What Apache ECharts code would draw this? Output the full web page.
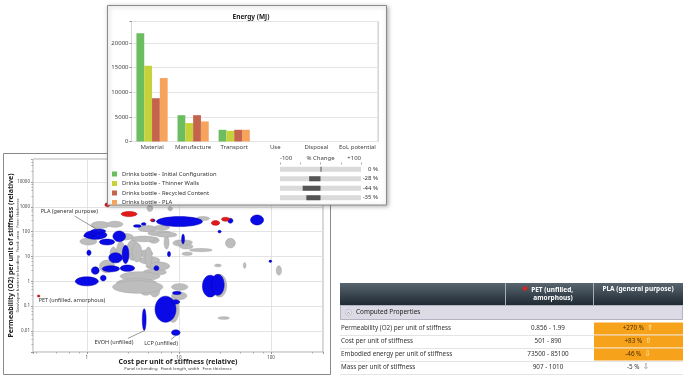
<!DOCTYPE html>
<html><head><meta charset="utf-8">
<script src="https://cdn.jsdelivr.net/npm/echarts@6/dist/echarts.min.js"></script>
<style>html,body{margin:0;padding:0;background:#fff}#c{width:685px;height:380px}</style>
</head><body><div id="c"></div>
<script>
// ---------- Energy bar chart data ----------
const categories = ['Material', 'Manufacture', 'Transport', 'Use', 'Disposal', 'EoL potential'];
const seriesNames = ['Drinks bottle - Initial Configuration', 'Drinks bottle - Thinner Walls', 'Drinks bottle - Recycled Content', 'Drinks bottle - PLA'];
const initialConfig = [22000, 5350, 2380, 0, 0, 0];
const thinnerWalls = [15400, 3750, 2170, 0, 0, 0];
const recycledContent = [8800, 5350, 2380, 0, 0, 0];
const plaBottle = [12900, 4080, 2380, 0, 0, 0];
const pctChange = [0, -28, -44, -35];
const barTitle = 'Energy (MJ)';

// ---------- Property chart data: [costLow, costHigh, permLow, permHigh] ----------
const grayMaterials = [
  [4.5,5.2,650,1200],[7.6,8.5,690,1030],[15.4,21.5,280,405],[1.11,1.76,136,254],[1.65,2.46,150,263],
  [3.6,5.7,100,175],[5.4,7.9,117,181],[4.6,8.3,67,110],[4.7,6.1,34,59],[6.9,7.8,20,67],
  [8.6,12,26,46],[10.2,14.2,20,32],[13,23,15.5,21],[32,41,22,54],[2.7,3.7,7,46],
  [2.1,2.6,7,39],[3.0,5.7,39,66],[3.7,5.2,9.7,18],[3.7,6.2,4.9,9.7],[4.4,7.9,3.0,5.2],
  [4.1,7.3,1.75,3.1],[2.3,6.2,1.03,2.4],[2.1,5.7,0.55,1.28],[2.3,4.8,0.34,0.86],[3.7,5.2,0.27,0.86],
  [4.8,6.2,0.23,0.8],[8.3,12.5,0.43,0.8],[8.3,12.2,0.18,0.37],[7.5,10,0.022,0.23],[23,33,0.23,1.9],
  [24.4,28.8,3.8,4.9],[50,53.5,3.3,5.7],[114,130,1.75,4.2],[26.5,35.5,0.029,0.037],[1.37,2.0,2.2,7.1],
  [2.0,3.2,46,85],[0.84,1.28,29,55],[1.78,2.12,5.9,24],[4.8,7.9,2.8,5.9],[3.1,3.96,6,35],
  [4.27,5.1,3.7,24],[1.9,6.7,0.33,1.05],[9.5,14,29,46],[10.8,14,11,15],[5.7,9.5,60,95]
];
const blueMaterials = [
  [5.7,18,160,405],[60,83,186,470],[18,26.5,0.23,1.75],[22.5,31,0.27,1.9],[5.5,9.3,0.022,0.25],
  [4.0,4.4,0.0103,0.078],[8.3,10.3,0.0065,0.011],[0.75,1.33,0.65,1.5],[1.12,1.36,1.9,3.8],[1.4,1.62,1.03,1.75],
  [1.0,1.11,11,18],[1.47,2.26,2.4,4.2],[2.3,3.3,2.5,4.5],[1.73,2.42,5.5,14],[2.42,2.86,5.2,28],
  [1.37,2.0,29,50],[0.94,1.65,49,110],[1.92,2.63,39,107],[1.11,1.6,86,128],[0.92,1.21,59,76],
  [3.2,3.9,150,190],[3.9,4.4,180,230],[5.0,5.5,250,320],[10.7,11.5,32,80],[7.5,8.1,9.7,16],
  [5.35,6.06,2.7,4.2],[34,38.6,220,345],[26.5,28.8,89,113],[95,102,5.7,7.1],[8.5,10.6,0.29,0.39],
  [8.3,10.2,0.12,0.18]
];
const redMaterials = [
  [2.36,3.5,405,650],[1.57,1.78,1000,1450],[22.5,27.7,180,280],[29,35.5,263,380],[4.9,5.3,256,325],
  [0.29,0.31,0.23,0.28]
];
const labelNames = ['PLA (general purpose)', 'PET (unfilled, amorphous)', 'EVOH (unfilled)', 'LCP (unfilled)'];
const labelAnchors = [[1.38,105],[0.3,0.25],[4.27,0.0104],[9.3,0.0065]];
const xAxisTitle = 'Cost per unit of stiffness (relative)';
const xAxisSub = 'Panel in bending   Fixed: length, width   Free: thickness';
const yAxisTitle = 'Permeability (O2) per unit of stiffness (relative)';
const yAxisSub = 'Gas/vapor barrier in bending   Fixed: area   Free: thickness';

// ---------- Table data ----------
const tableColumns = ['PET (unfilled, amorphous)', 'PLA (general purpose)'];
const tableSection = 'Computed Properties';
const tableRows = ['Permeability (O2) per unit of stiffness', 'Cost per unit of stiffness', 'Embodied energy per unit of stiffness', 'Mass per unit of stiffness'];
const petValues = ['0.856 - 1.99', '501 - 890', '73500 - 85100', '907 - 1010'];
const plaChange = [270, 83, -46, -5];

// ---------- styles ----------
const FONT = 'Noto Sans';
const barColors = ['#6cbd5f', '#c6d23a', '#c4644c', '#f6a35e'];
const labelStyles = [
  {tx:-59, ty:-20, lx:-25, ly:-15, align:'left'},
  {tx:0, ty:4, lx:0, ly:0, align:'left'},
  {tx:-31, ty:12, lx:-17, ly:8, align:'center'},
  {tx:-15, ty:8, lx:-5, ly:4, align:'center'}
];

function isPow10(v) { const l = Math.log10(v); return Math.abs(l - Math.round(l)) < 1e-6; }

function ellipseSeries(name, data, fill, stroke, z) {
  return {
    type: 'custom', name, xAxisIndex: 0, yAxisIndex: 0, z, clip: true,
    data, encode: {x: [0, 1], y: [2, 3]},
    renderItem: function (params, api) {
      const p1 = api.coord([api.value(0), api.value(2)]);
      const p2 = api.coord([api.value(1), api.value(3)]);
      return {
        type: 'ellipse',
        shape: {cx: (p1[0] + p2[0]) / 2, cy: (p1[1] + p2[1]) / 2,
                rx: Math.max(0.8, Math.abs(p2[0] - p1[0]) / 2), ry: Math.max(0.8, Math.abs(p2[1] - p1[1]) / 2)},
        style: {fill, stroke, lineWidth: 0.5}
      };
    }
  };
}

const labelSeries = {
  type: 'custom', xAxisIndex: 0, yAxisIndex: 0, z: 8,
  data: labelAnchors.map((a, i) => [a[0], a[1], i]),
  encode: {x: 0, y: 1},
  renderItem: function (params, api) {
    const i = api.value(2);
    const p = api.coord([api.value(0), api.value(1)]);
    const s = labelStyles[i];
    const children = [];
    if (s.lx || s.ly) {
      children.push({type: 'line', shape: {x1: p[0], y1: p[1], x2: p[0] + s.lx, y2: p[1] + s.ly},
        style: {stroke: '#555', lineWidth: 0.6}});
    }
    children.push({type: 'text', x: p[0] + s.tx, y: p[1] + s.ty,
      style: {text: labelNames[i], fontSize: 5.5, fontFamily: FONT, fill: '#333', align: s.align, verticalAlign: 'middle'}});
    return {type: 'group', children};
  }
};

// ---------- graphics: panels + table ----------
const g = [];
g.push({type: 'rect', z: 1, silent: true, shape: {x: 3.5, y: 153.5, width: 327, height: 221},
  style: {fill: 'transparent', stroke: '#8a8a8a', lineWidth: 1}});
g.push({type: 'rect', z: 50, silent: true, shape: {x: 107.5, y: 5.5, width: 279, height: 199.5},
  style: {fill: '#fff', stroke: '#8a8a8a', lineWidth: 1, shadowBlur: 4, shadowColor: 'rgba(0,0,0,0.3)', shadowOffsetX: 1, shadowOffsetY: 1}});

// table
const TX = 340, TW = 343, C1 = 505, C2 = 593;
g.push({type: 'rect', z: 5, shape: {x: TX, y: 283, width: TW, height: 22},
  style: {fill: {type: 'linear', x: 0, y: 0, x2: 0, y2: 1, colorStops: [{offset: 0, color: '#58656f'}, {offset: 1, color: '#1f2a33'}]}}});
g.push({type: 'line', z: 6, shape: {x1: C1 + 0.5, y1: 283, x2: C1 + 0.5, y2: 305}, style: {stroke: '#a7b0b8', lineWidth: 1}});
g.push({type: 'line', z: 6, shape: {x1: C2 + 0.5, y1: 283, x2: C2 + 0.5, y2: 305}, style: {stroke: '#a7b0b8', lineWidth: 1}});
g.push({type: 'circle', z: 7, shape: {cx: 525, cy: 288.5, r: 2.2}, style: {fill: '#e0231c'}});
g.push({type: 'text', z: 7, x: 553, y: 294, style: {text: tableColumns[0], width: 62, overflow: 'break', fontSize: 6.5, fontWeight: 'bold',
  fontFamily: FONT, fill: '#fff', align: 'center', verticalAlign: 'middle', lineHeight: 8}});
g.push({type: 'text', z: 7, x: 638, y: 289.5, style: {text: tableColumns[1], fontSize: 6.5, fontWeight: 'bold',
  fontFamily: FONT, fill: '#fff', align: 'center', verticalAlign: 'middle'}});
g.push({type: 'rect', z: 5, shape: {x: TX + 0.5, y: 305.5, width: TW - 1, height: 14},
  style: {fill: '#dcdbe5', stroke: '#b4b3c2', lineWidth: 1}});
g.push({type: 'circle', z: 6, shape: {cx: 348.5, cy: 312.5, r: 3}, style: {fill: '#ecebf2', stroke: '#a9a8b6', lineWidth: 0.6}});
g.push({type: 'text', z: 7, x: 348.5, y: 313.5, style: {text: '^', fontSize: 5, fontFamily: FONT, fill: '#555', align: 'center', verticalAlign: 'middle'}});
g.push({type: 'text', z: 7, x: 356, y: 312.5, style: {text: tableSection, fontSize: 6.4, fontFamily: FONT, fill: '#222', verticalAlign: 'middle'}});
tableRows.forEach((r, i) => {
  const top = 322 + 13 * i, cy = top + 6.5;
  g.push({type: 'line', z: 5, shape: {x1: TX, y1: top + 13.5, x2: TX + TW, y2: top + 13.5}, style: {stroke: '#e4e4e4', lineWidth: 1}});
  g.push({type: 'text', z: 7, x: 341, y: cy, style: {text: r, fontSize: 6.3, fontFamily: FONT, fill: '#333', verticalAlign: 'middle'}});
  g.push({type: 'text', z: 7, x: 548, y: cy, style: {text: petValues[i], fontSize: 6.3, fontFamily: FONT, fill: '#333', align: 'center', verticalAlign: 'middle'}});
  const v = plaChange[i];
  const big = Math.abs(v) >= 10;
  if (big) g.push({type: 'rect', z: 5, shape: {x: C2 + 1, y: top + 0.5, width: 89, height: 12}, style: {fill: '#f7a21b'}});
  const txt = (v > 0 ? '+' : '') + v + ' %';
  g.push({type: 'text', z: 7, x: 638, y: cy, style: {
    text: '{v|' + txt + '} {a|' + (v > 0 ? '⇧' : '⇩') + '}', align: 'center', verticalAlign: 'middle', fontFamily: FONT,
    rich: {v: {fontSize: 6.3, fontFamily: FONT, fill: big ? '#4a2e00' : '#333'},
           a: {fontSize: 7.5, fontFamily: 'DejaVu Sans', fill: big ? '#fff0b8' : '#777'}}}});
});

const chart = echarts.init(document.getElementById('c'), null, {renderer: 'canvas'});
const option = {
  animation: false,
  backgroundColor: '#fff',
  textStyle: {fontFamily: FONT},
  title: {text: barTitle, left: 246, top: 9, textAlign: 'center', z: 60,
    textStyle: {fontSize: 6.5, fontWeight: 'bold', color: '#222', fontFamily: FONT}},
  graphic: g,
  legend: {orient: 'vertical', left: 107, top: 166, itemWidth: 5, itemHeight: 5, itemGap: 3.5, icon: 'rect',
    selectedMode: false, z: 60, data: seriesNames,
    textStyle: {fontSize: 5.8, color: '#333', lineHeight: 6, fontFamily: FONT}},
  grid: [
    {left: 33, top: 159, width: 290, height: 193, show: true, borderColor: '#999', borderWidth: 0.8, backgroundColor: 'transparent'},
    {left: 131.5, top: 21.5, width: 246.5, height: 120, show: true, borderColor: '#d0d0d0', borderWidth: 1, z: 55},
    {left: 280, top: 164.5, width: 81, height: 38}
  ],
  xAxis: [
    {gridIndex: 0, type: 'log', logBase: 10, min: 0.26, max: 367,
      axisLine: {show: false},
      axisTick: {show: true, length: 2, lineStyle: {color: '#999'}},
      minorTick: {show: true, splitNumber: 5, length: 1.5, lineStyle: {color: '#aaa'}},
      splitLine: {show: true, lineStyle: {color: '#dcdcdc', width: 0.8}},
      axisLabel: {fontSize: 4.5, color: '#444', margin: 3, formatter: v => isPow10(v) ? String(v) : ''},
      name: '{t|' + xAxisTitle + '}\n{s|' + xAxisSub + '}', nameLocation: 'middle', nameGap: 6, nameMoveOverlap: false,
      nameTextStyle: {fontFamily: FONT, rich: {t: {fontSize: 7, fontWeight: 'bold', color: '#222', lineHeight: 8, fontFamily: FONT},
        s: {fontSize: 4.2, color: '#444', lineHeight: 6, fontFamily: FONT}}}},
    {gridIndex: 1, type: 'category', data: categories, z: 60,
      axisLine: {show: false}, axisTick: {show: false},
      splitLine: {show: true, interval: (i) => i === 5, lineStyle: {color: '#d6d6d6'}},
      axisLabel: {fontSize: 6, color: '#444', margin: 3, interval: 0}},
    {gridIndex: 2, type: 'value', position: 'top', min: -100, max: 100, interval: 50, z: 60,
      axisLine: {show: false}, axisTick: {show: true, length: 2, lineStyle: {color: '#aaa'}}, splitLine: {show: false},
      axisLabel: {fontSize: 6, color: '#444', margin: 3, alignMinLabel: 'left', alignMaxLabel: 'right',
        formatter: v => v === -100 ? '-100' : v === 0 ? '% Change' : v === 100 ? '+100' : ''}}
  ],
  yAxis: [
    {gridIndex: 0, type: 'log', logBase: 10, min: 0.0014, max: 85000,
      axisLine: {show: false},
      axisTick: {show: true, length: 2, lineStyle: {color: '#999'}},
      minorTick: {show: true, splitNumber: 5, length: 1.5, lineStyle: {color: '#aaa'}},
      splitLine: {show: true, lineStyle: {color: '#dcdcdc', width: 0.8}},
      axisLabel: {fontSize: 4.5, color: '#444', margin: 3, formatter: v => isPow10(v) ? String(v) : ''},
      name: '{t|' + yAxisTitle + '}\n{s|' + yAxisSub + '}', nameLocation: 'middle', nameGap: 12, nameRotate: 90, nameMoveOverlap: false,
      nameTextStyle: {fontFamily: FONT, rich: {t: {fontSize: 7, fontWeight: 'bold', color: '#222', lineHeight: 8, fontFamily: FONT},
        s: {fontSize: 4.2, color: '#444', lineHeight: 6, fontFamily: FONT}}}},
    {gridIndex: 1, type: 'value', min: 0, max: 24400, interval: 5000, z: 60,
      axisLine: {show: false}, axisTick: {show: true, length: 2, lineStyle: {color: '#888'}},
      splitLine: {show: true, lineStyle: {color: '#e4e4e4'}},
      axisLabel: {fontSize: 6, color: '#444', margin: 3, formatter: v => (v % 5000 === 0 ? String(v) : '')}},
    {gridIndex: 2, type: 'category', inverse: true, position: 'right', z: 60,
      data: pctChange.map(v => v + ' %'),
      axisLine: {show: false}, axisTick: {show: false},
      axisLabel: {fontSize: 6, color: '#333', margin: 17, align: 'right'}}
  ],
  series: [
    ellipseSeries('others', grayMaterials, '#bdbdbd', '#a6a6a6', 3),
    ellipseSeries('selected', blueMaterials, '#0a0ae6', '#0000b0', 4),
    ellipseSeries('highlight', redMaterials, '#e21a1a', '#b00000', 5),
    labelSeries,
    {type: 'bar', name: seriesNames[0], xAxisIndex: 1, yAxisIndex: 1, data: initialConfig, z: 60, barGap: '0%', barCategoryGap: '24%', itemStyle: {color: barColors[0]}},
    {type: 'bar', name: seriesNames[1], xAxisIndex: 1, yAxisIndex: 1, data: thinnerWalls, z: 60, barGap: '0%', barCategoryGap: '24%', itemStyle: {color: barColors[1]}},
    {type: 'bar', name: seriesNames[2], xAxisIndex: 1, yAxisIndex: 1, data: recycledContent, z: 60, barGap: '0%', barCategoryGap: '24%', itemStyle: {color: barColors[2]}},
    {type: 'bar', name: seriesNames[3], xAxisIndex: 1, yAxisIndex: 1, data: plaBottle, z: 60, barGap: '0%', barCategoryGap: '24%', itemStyle: {color: barColors[3]}},
    {type: 'bar', xAxisIndex: 2, yAxisIndex: 2, data: pctChange, barWidth: 5, barMinHeight: 1, z: 60,
      showBackground: true, backgroundStyle: {color: '#dadada'}, itemStyle: {color: '#555'}}
  ]
};
chart.setOption(option);
</script></body></html>
